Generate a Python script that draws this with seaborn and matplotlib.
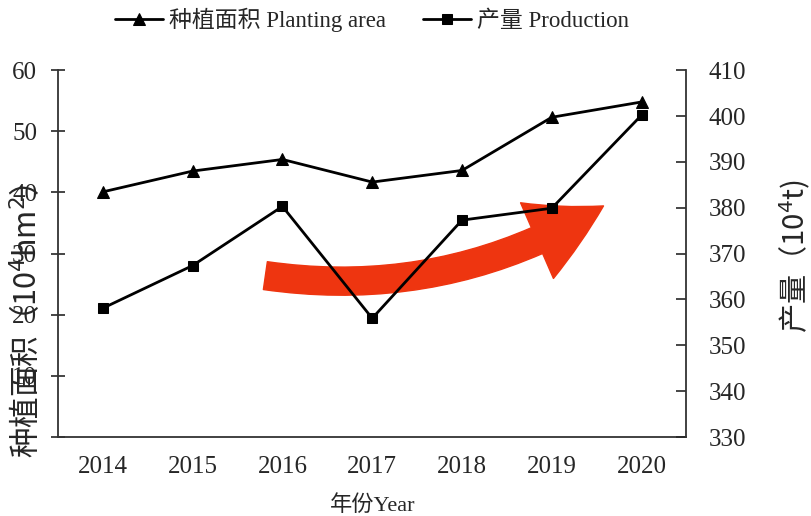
import numpy as np
import pandas as pd
import matplotlib
matplotlib.use("Agg")
import matplotlib.pyplot as plt
import seaborn as sns

# data
years = ["2014", "2015", "2016", "2017", "2018", "2019", "2020"]
planting_area = [40.1, 43.5, 45.4, 41.7, 43.6, 52.3, 54.8]          # 10^4 hm2
production = [358.1, 367.4, 380.3, 355.9, 377.3, 379.9, 400.2]     # 10^4 t
left_ticks = [0, 10, 20, 30, 40, 50, 60]
right_ticks = [330, 340, 350, 360, 370, 380, 390, 400, 410]

sns.set_style("ticks")
serif = ["Liberation Serif", "Noto Sans CJK SC"]
sans = ["Noto Sans CJK SC", "DejaVu Sans"]
plt.rcParams["font.family"] = serif

df = pd.DataFrame({"year": years, "area": planting_area, "prod": production})

fig = plt.figure(figsize=(8.12, 5.16), dpi=100)
ax = fig.add_axes([0.0714, 0.153, 0.774, 0.711])
ax2 = ax.twinx()

sns.lineplot(data=df, x="year", y="area", ax=ax, color="black", marker="^",
             markersize=8, linewidth=2, markeredgecolor="black",
             label="种植面积 Planting area", legend=False)
sns.lineplot(data=df, x="year", y="prod", ax=ax2, color="black", marker="s",
             markersize=7, linewidth=2, markeredgecolor="black",
             label="产量 Production", legend=False)

ax.set_xlim(-0.5, 6.5)
ax.set_ylim(0, 60)
ax2.set_ylim(330, 410)
ax.set_yticks(left_ticks)
ax.set_yticklabels([""] + [str(t) for t in left_ticks[1:]])
ax2.set_yticks(right_ticks)

for a in (ax, ax2):
    a.spines["top"].set_visible(False)
    for s in a.spines.values():
        s.set_linewidth(1.3)
        s.set_color("#333333")
ax.spines["right"].set_visible(False)
ax2.spines["left"].set_visible(False)
ax2.spines["bottom"].set_visible(False)

ax.tick_params(axis="x", length=0, labelsize=18, pad=14)
ax.tick_params(axis="y", direction="inout", length=10, width=1.2, labelsize=18, pad=10)
ax2.tick_params(axis="y", direction="in", length=7, width=1.2, labelsize=18, pad=16)

ax.set_xlabel("年份Year", fontsize=16, labelpad=12)
ax.set_ylabel("种植面积（10$^4$hm$^2$）", family=sans, fontsize=22)
ax.yaxis.set_label_coords(-0.021, 0.316)
ax2.set_ylabel("产量（10$^4$t)", family=sans, fontsize=21, rotation=90)
ax2.yaxis.set_label_coords(1.145, 0.493)

# red trend arrow
ax.annotate("", xy=(0.868, 0.63), xytext=(0.33, 0.44), xycoords="axes fraction",
            arrowprops=dict(arrowstyle="simple,head_length=1.2,head_width=1.32,tail_width=0.45",
                            connectionstyle="arc3,rad=0.18", color="#EE3510",
                            mutation_scale=45, shrinkA=0, shrinkB=0))

h1, l1 = ax.get_legend_handles_labels()
h2, l2 = ax2.get_legend_handles_labels()
fig.legend(h1 + h2, l1 + l2, loc="upper center", bbox_to_anchor=(0.458, 1.025),
           ncol=2, frameon=False, fontsize=16.5, handlelength=2.1,
           columnspacing=1.6, handletextpad=0.25)

plt.savefig("out.png", dpi=100)
plt.close()
